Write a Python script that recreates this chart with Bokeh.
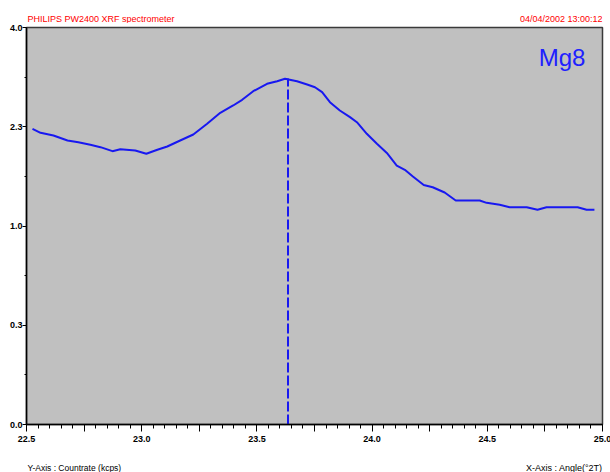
import numpy as np
from bokeh.plotting import figure
from bokeh.layouts import column
from bokeh.models import FixedTicker, Label, ColumnDataSource, Range1d
from bokeh.embed import file_html
from bokeh.resources import INLINE

# ---- data (angle in degrees 2-theta, count rate in kcps) ----
angle = [22.526, 22.561, 22.617, 22.678, 22.725, 22.777, 22.821, 22.873, 22.907,
         22.972, 23.020, 23.068, 23.111, 23.167, 23.224, 23.284, 23.341, 23.397,
         23.436, 23.484, 23.544, 23.588, 23.622, 23.674, 23.718, 23.752, 23.783,
         23.817, 23.860, 23.904, 23.934, 23.977, 24.021, 24.064, 24.107, 24.142,
         24.177, 24.224, 24.263, 24.315, 24.363, 24.467, 24.497, 24.554, 24.597,
         24.671, 24.718, 24.757, 24.892, 24.931, 24.965]
countrate = [2.219, 2.159, 2.120, 2.047, 2.023, 1.986, 1.952, 1.896, 1.923,
             1.905, 1.860, 1.915, 1.961, 2.047, 2.134, 2.295, 2.466, 2.583,
             2.676, 2.819, 2.946, 2.991, 3.033, 2.991, 2.934, 2.887, 2.803,
             2.636, 2.502, 2.397, 2.319, 2.145, 2.000, 1.871, 1.702, 1.646,
             1.561, 1.456, 1.429, 1.366, 1.273, 1.273, 1.247, 1.225, 1.198,
             1.198, 1.170, 1.198, 1.198, 1.170, 1.170]
peak_angle = [23.635]
peak_rate = [3.04]

x_major = [22.5, 23.0, 23.5, 24.0, 24.5, 25.0]
x_major_labels = ["22.5", "23.0", "23.5", "24.0", "24.5", "25.0"]
x_mid = [22.75, 23.25, 23.75, 24.25, 24.75]
x_minor_step = 0.05

y_tick_values = [0.0, 0.25, 1.0, 2.25, 4.0]
y_tick_labels = ["0.0", "0.3", "1.0", "2.3", "4.0"]
y_minor_values = [0.0625, 0.5625, 1.5625, 3.0625]

title_left = "PHILIPS PW2400 XRF spectrometer"
title_right = "04/04/2002 13:00:12"
element = "Mg8"
y_caption = "Y-Axis : Countrate (kcps)"
x_caption = "X-Axis : Angle(\u00b02T)"

FONT = "Liberation Sans"
RED = "#ff0000"
BLUE = "#1818f0"
W = 610
BL, BR = 26, 8

sq = np.sqrt
src = ColumnDataSource(dict(x=angle, y=sq(np.array(countrate))))
xr = Range1d(22.5, 25.0)
top = float(sq(4.0))


def strip(height):
    s = figure(width=W, height=height, output_backend="svg", toolbar_location=None,
               x_range=xr, y_range=Range1d(0, 1),
               x_axis_location=None, y_axis_location=None,
               min_border_left=BL, min_border_right=BR,
               min_border_top=0, min_border_bottom=0)
    s.outline_line_color = None
    s.background_fill_color = "white"
    s.border_fill_color = "white"
    s.grid.visible = False
    return s


# ---- header strip ----
head = strip(23)
head.add_layout(Label(x=22.5, y=0, x_offset=1, y_offset=5, text=title_left,
                      text_font=FONT, text_font_size="9px", text_color=RED,
                      text_baseline="alphabetic", text_align="left"))
head.add_layout(Label(x=25.0, y=0, x_offset=0, y_offset=5, text=title_right,
                      text_font=FONT, text_font_size="9px", text_color=RED,
                      text_baseline="alphabetic", text_align="right"))

# ---- main chart ----
p = figure(width=W, height=433, output_backend="svg", toolbar_location=None,
           x_range=xr, y_range=Range1d(0, top),
           min_border_left=BL, min_border_top=4, min_border_bottom=32,
           min_border_right=BR)
p.background_fill_color = "#c0c0c0"
p.border_fill_color = "white"
p.outline_line_color = "#3a3a3a"
p.outline_line_width = 1.5
p.xgrid.visible = False
p.ygrid.visible = False

xt_major = x_major + x_mid
xt_minor = [round(float(v), 3) for v in np.arange(22.5, 25.0 + 1e-9, x_minor_step)]
p.xaxis.ticker = FixedTicker(ticks=xt_major, minor_ticks=xt_minor)
ov = {v: l for v, l in zip(x_major, x_major_labels)}
ov.update({v: "" for v in x_mid})
p.xaxis.major_label_overrides = ov
p.xaxis.major_tick_in = 0
p.xaxis.major_tick_out = 7
p.xaxis.minor_tick_in = 0
p.xaxis.minor_tick_out = 4
p.xaxis.major_label_standoff = 4

ypos = [float(v) for v in sq(np.array(y_tick_values))]
ymin = [float(v) for v in sq(np.array(y_minor_values))]
p.yaxis.ticker = FixedTicker(ticks=ypos, minor_ticks=ymin)
p.yaxis.major_label_overrides = {v: l for v, l in zip(ypos, y_tick_labels)}
p.yaxis.major_tick_in = 0
p.yaxis.major_tick_out = 4
p.yaxis.minor_tick_in = 0
p.yaxis.minor_tick_out = 2
p.yaxis.major_label_standoff = 0

for ax in (p.xaxis, p.yaxis):
    ax.axis_line_color = "black"
    ax.axis_line_width = 1.5
    ax.major_tick_line_color = "black"
    ax.minor_tick_line_color = "black"
    ax.major_label_text_font = FONT
    ax.major_label_text_font_size = "9px"
    ax.major_label_text_font_style = "bold"
    ax.major_label_text_color = "black"

p.line("x", "y", source=src, line_color=BLUE, line_width=2)
p.segment(x0=peak_angle, y0=[0.0], x1=peak_angle, y1=[float(v) for v in sq(np.array(peak_rate))],
          line_color=BLUE, line_width=2, line_dash="10 3")

p.add_layout(Label(x=24.926, y=top, y_offset=-30, text=element,
                   text_font=FONT, text_font_size="24px", text_color="#2020ff",
                   text_baseline="alphabetic", text_align="right"))

# ---- footer strip ----
foot = strip(16)
foot.add_layout(Label(x=22.5, y=0, x_offset=1, y_offset=5, text=y_caption,
                      text_font=FONT, text_font_size="8.5px", text_color="black",
                      text_baseline="alphabetic", text_align="left"))
foot.add_layout(Label(x=25.0, y=0, x_offset=0, y_offset=5, text=x_caption,
                      text_font=FONT, text_font_size="9px", text_color="black",
                      text_baseline="alphabetic", text_align="right"))

layout = column(head, p, foot, spacing=0)
open("out.html", "w").write(file_html(layout, INLINE))
